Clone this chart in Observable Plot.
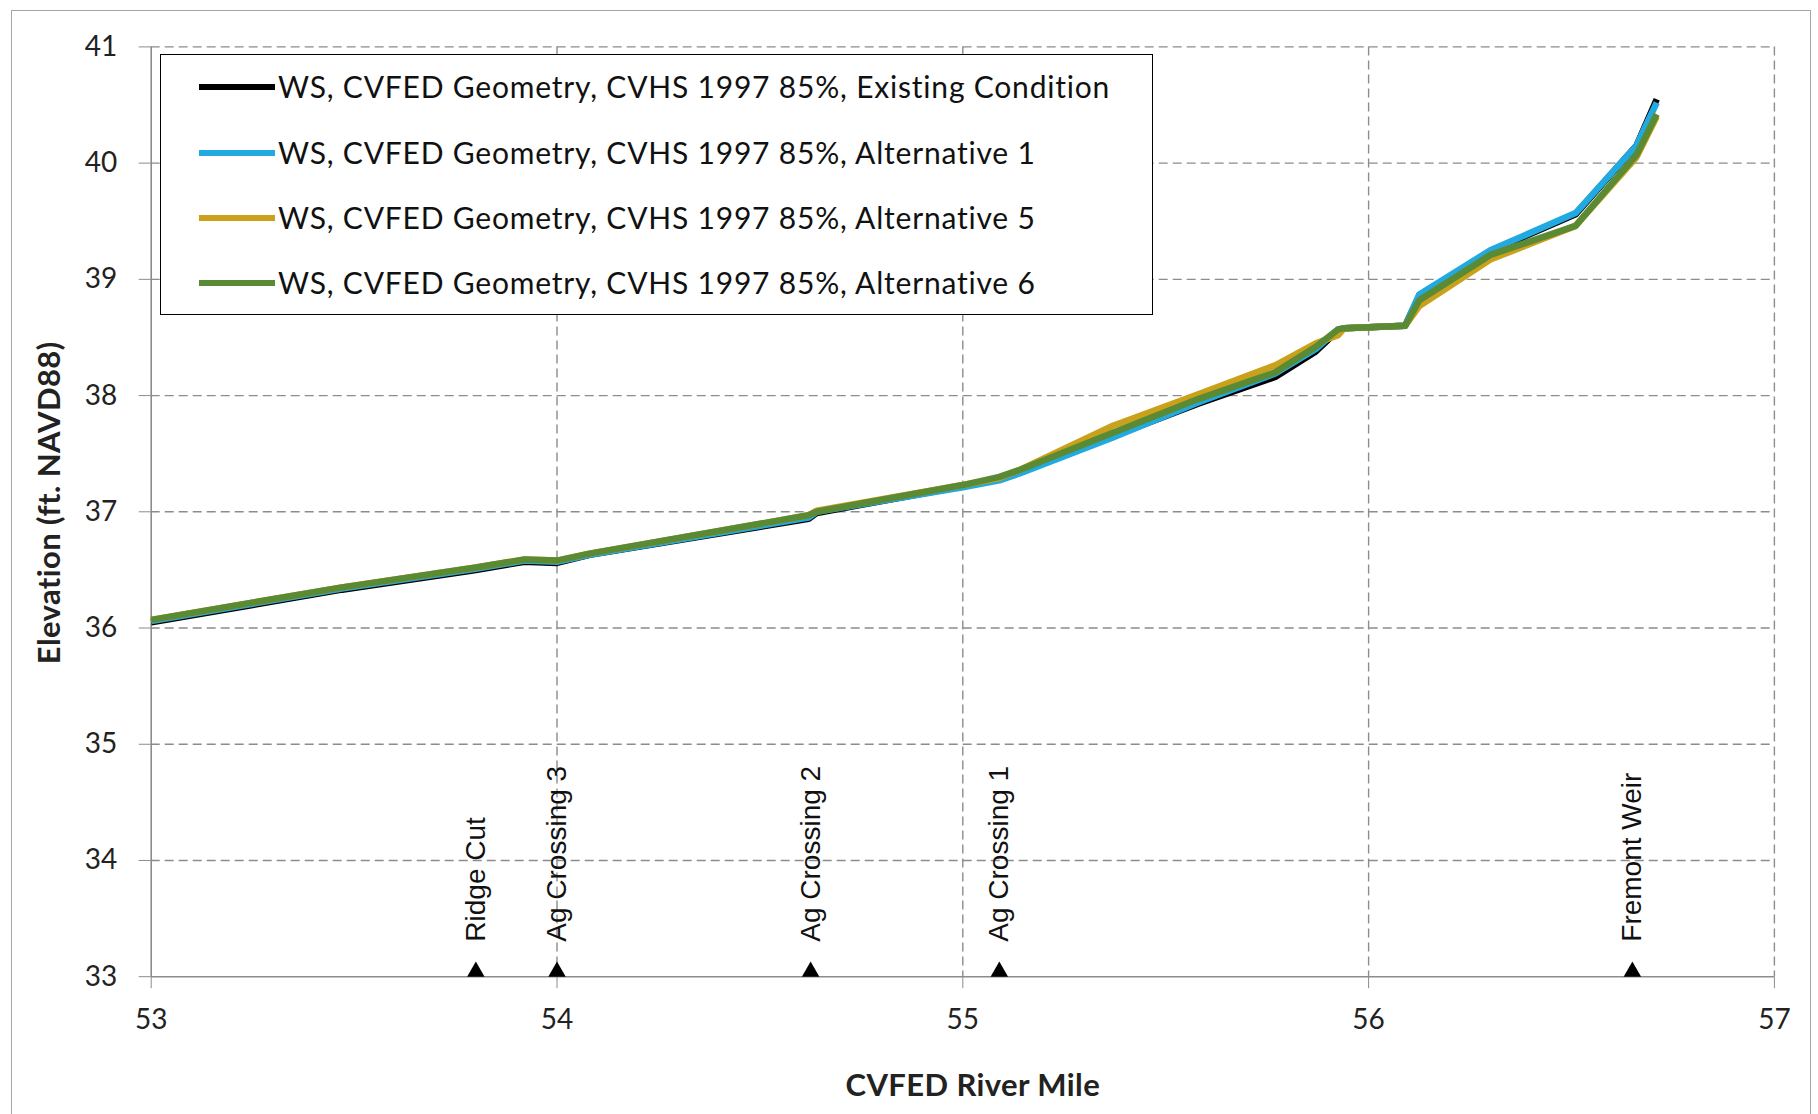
<!DOCTYPE html>
<html>
<head>
<meta charset="utf-8">
<script src="https://cdn.jsdelivr.net/npm/d3@7"></script>
<script src="https://cdn.jsdelivr.net/npm/@observablehq/plot@0.6"></script>
<style>
html, body { margin: 0; padding: 0; background: #fff; }
#wrap { position: relative; width: 1818px; height: 1114px; overflow: hidden; }
#border { position: absolute; left: 11px; top: 10px; width: 1800px; height: 1130px; border: 1.5px solid #a6a6a6; box-sizing: border-box; }
#chart { position: absolute; left: 0; top: 0; }
#legend { position: absolute; left: 160px; top: 54px; width: 993px; height: 261px; border: 1.6px solid #000; box-sizing: border-box; background: #fff; font-family: Lato, sans-serif; font-size: 30px; letter-spacing: 0.8px; color: #111; }
#legend .row { position: absolute; left: 0; height: 0; }
#legend .sw { position: absolute; left: 38px; width: 76px; height: 5.5px; top: -2.75px; }
#legend .tx { position: absolute; left: 117px; top: -19px; white-space: nowrap; line-height: 36px; }
g[aria-label="x-axis label"] text, g[aria-label="y-axis label"] text { font-weight: bold; font-size: 31px; letter-spacing: 0.4px; }
</style>
</head>
<body>
<div id="wrap">
  <div id="border"></div>
  <div id="chart"></div>
  <div id="legend"></div>
</div>
<script>
// ---- data ----
const riverMile = [53.0, 53.47, 53.8, 53.92, 54.0, 54.08, 54.62, 54.64, 55.0, 55.09, 55.14, 55.37, 55.58, 55.77, 55.87, 55.925, 55.94, 56.09, 56.125, 56.30, 56.51, 56.66, 56.71];
const existing = [36.05, 36.33, 36.50, 36.57, 36.56, 36.63, 36.94, 36.99, 37.22, 37.28, 37.34, 37.65, 37.93, 38.16, 38.38, 38.56, 38.58, 38.60, 38.86, 39.24, 39.56, 40.15, 40.55];
const alt1     = [36.06, 36.34, 36.51, 36.58, 36.57, 36.63, 36.95, 37.00, 37.21, 37.27, 37.33, 37.64, 37.94, 38.19, 38.40, 38.57, 38.58, 38.60, 38.87, 39.25, 39.57, 40.15, 40.52];
const alt5     = [36.07, 36.35, 36.52, 36.59, 36.58, 36.64, 36.97, 37.01, 37.23, 37.29, 37.36, 37.74, 38.01, 38.26, 38.45, 38.52, 38.58, 38.60, 38.77, 39.17, 39.46, 40.05, 40.40];
const alt6     = [36.07, 36.35, 36.52, 36.59, 36.58, 36.64, 36.97, 37.00, 37.23, 37.30, 37.36, 37.68, 37.97, 38.20, 38.42, 38.57, 38.58, 38.60, 38.82, 39.21, 39.46, 40.07, 40.42];

const seriesNames = [
  "WS, CVFED Geometry, CVHS 1997 85%, Existing Condition",
  "WS, CVFED Geometry, CVHS 1997 85%, Alternative 1",
  "WS, CVFED Geometry, CVHS 1997 85%, Alternative 5",
  "WS, CVFED Geometry, CVHS 1997 85%, Alternative 6"
];
const seriesColors = ["#000000", "#22A9E0", "#C9A11B", "#5A8A33"];
const seriesValues = [existing, alt1, alt5, alt6];

const markerNames = ["Ridge Cut", "Ag Crossing 3", "Ag Crossing 2", "Ag Crossing 1", "Fremont Weir"];
const markerMiles = [53.8, 54.0, 54.625, 55.09, 56.65];

const xTicks = [53, 54, 55, 56, 57];
const yTicks = [33, 34, 35, 36, 37, 38, 39, 40, 41];
const xLabel = "CVFED River Mile";
const yLabel = "Elevation (ft. NAVD88)";

// ---- build ----
const seriesData = seriesValues.map(vals => riverMile.map((m, j) => ({mile: m, elev: vals[j]})));
const markers = markerNames.map((n, i) => ({name: n, mile: markerMiles[i], base: yTicks[0]}));

const gridStyle = {stroke: "#8c8c8c", strokeOpacity: 1, strokeWidth: 1.4, strokeDasharray: "9,5"};

const chart = Plot.plot({
  width: 1818,
  height: 1114,
  marginLeft: 150.7,
  marginRight: 44.1,
  marginTop: 46.4,
  marginBottom: 137.8,
  style: {fontFamily: "Lato, sans-serif", fontSize: "28px", background: "transparent", color: "#222"},
  x: {domain: [xTicks[0], xTicks[xTicks.length - 1]]},
  y: {domain: [yTicks[0], yTicks[yTicks.length - 1]]},
  marks: [
    Plot.ruleX(xTicks.slice(1), {x: d => d, ...gridStyle}),
    Plot.ruleY(yTicks.slice(1), {y: d => d, ...gridStyle}),
    Plot.ruleX([xTicks[0]], {x: d => d, stroke: "#8c8c8c", strokeWidth: 1.6}),
    Plot.ruleY([yTicks[0]], {y: d => d, stroke: "#8c8c8c", strokeWidth: 1.6}),
    Plot.axisX(xTicks, {tickSize: 12, tickPadding: 20, stroke: "#8c8c8c", fill: "#222", tickFormat: d => String(d),
      label: xLabel, labelAnchor: "center", labelOffset: 119, labelArrow: "none"}),
    Plot.axisY(yTicks, {tickSize: 12, tickPadding: 22, stroke: "#8c8c8c", fill: "#222", tickFormat: d => String(d),
      label: yLabel, labelAnchor: "center", labelOffset: 113, labelArrow: "none"}),
    ...seriesData.map((d, i) => Plot.line(d, {x: "mile", y: "elev", stroke: seriesColors[i], strokeWidth: 6.5, strokeLinejoin: "round", strokeLinecap: "butt"})),
    Plot.dot(markers, {x: "mile", y: "base", symbol: "triangle", r: 6.5, fill: "#000", stroke: "none", dy: -5}),
    Plot.text(markers, {x: "mile", y: "base", text: "name", rotate: -90, textAnchor: "start", dy: -35,
      fontFamily: "Liberation Sans, Arial, sans-serif", fontSize: 28, fill: "#111"})
  ]
});
document.getElementById("chart").appendChild(chart);

// nudge axis titles slightly (wrap existing transform)
function nudge(sel, dx, dy) {
  const g = chart.querySelector(sel);
  if (!g) return;
  const t = g.getAttribute("transform") || "";
  g.setAttribute("transform", `translate(${dx},${dy}) ${t}`);
}
nudge('g[aria-label="x-axis label"]', 10, 0);
nudge('g[aria-label="y-axis label"]', 0, -9);

// legend (HTML overlay)
const legend = document.getElementById("legend");
const rowTops = [32, 98, 163, 228];
seriesNames.forEach((name, i) => {
  const row = document.createElement("div");
  row.className = "row";
  row.style.top = rowTops[i] + "px";
  const sw = document.createElement("div");
  sw.className = "sw";
  sw.style.background = seriesColors[i];
  const tx = document.createElement("div");
  tx.className = "tx";
  tx.textContent = name;
  row.appendChild(sw);
  row.appendChild(tx);
  legend.appendChild(row);
});
</script>
</body>
</html>
